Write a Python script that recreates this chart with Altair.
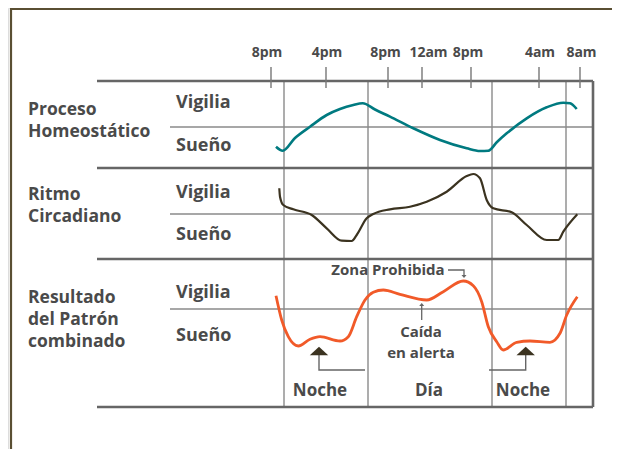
import altair as alt
import pandas as pd

# ---------------- data (chart units: x = 8..612 across, y = 8..449 down) -------------
tick_labels = ["8pm", "4pm", "8pm", "12am", "8pm", "4am", "8am"]
tick_x = [271, 326, 388, 422, 471, 539, 580]
tick_label_x = [267, 327, 385.5, 428.5, 468, 540, 581.5]

# Proceso Homeostático (teal)
homeo_x = [276, 282.7, 295, 310, 326.7, 340, 353.3, 362.7, 375, 390, 413.3, 440, 466.7, 480, 488.3,
           497, 506.7, 526.7, 546.7, 563.3, 570, 576.7]
homeo_y = [146.7, 150.7, 138, 126.7, 115, 109, 105, 103.3, 109.5, 116.7, 128.3, 140, 148.3, 151, 150.7,
           142, 133.3, 118.3, 107.3, 102.7, 103.3, 109]

# Ritmo Circadiano (dark olive)
circ_x = [279.3, 280, 283.3, 293.3, 311.7, 326.7, 341.7, 351.7, 356.7, 366.7, 373.3, 390, 410, 426.7,
          446.7, 466.7, 473.3, 480, 486.7, 493.3, 511.7, 526.7, 546.7, 558.3, 563.3, 577.3]
circ_y = [188.3, 196.7, 205, 209.3, 215, 228.3, 240.7, 241, 235, 218.3, 214, 209.3, 206.7, 201.7,
          191.7, 176, 174, 178.3, 200, 208.3, 212.3, 225, 240, 240, 231.7, 214.3]

# Resultado del Patrón combinado (orange)
comb_x = [276, 281.7, 288.3, 298.3, 310, 320, 340, 348.3, 356.7, 365, 373.3, 383.3, 400, 426.7,
          443.3, 463.3, 473.3, 481.7, 488.3, 496.7, 503.3, 516.7, 530, 550, 560, 566.7, 577.3]
comb_y = [295.7, 320, 336.7, 346, 339.3, 336.7, 341, 336.7, 316.7, 300, 292.3, 290, 294.3, 300,
          291.7, 281, 285.7, 301.7, 326.7, 341.7, 350, 342.3, 341, 342.3, 333.3, 315, 296.7]

group_labels = ["Proceso", "Homeostático", "Ritmo", "Circadiano", "Resultado", "del Patrón", "combinado"]
group_label_y = [110, 132, 195, 217, 297.5, 319.5, 341.5]

state_labels = ["Vigilia", "Sueño", "Vigilia", "Sueño", "Vigilia", "Sueño"]
state_label_y = [103, 146, 193, 235, 293, 336]

period_labels = ["Noche", "Día", "Noche"]
period_x = [320, 429, 523]

# ---------------- helpers --------------------------------------------------------------
X = alt.Scale(domain=[8, 612])
Y = alt.Scale(domain=[8, 449], reverse=True)
FONT = "Open Sans"
TXT = "#4a4a4a"


def rules(df, color, width):
    return alt.Chart(df).mark_rule(color=color, strokeWidth=width).encode(
        x=alt.X("x:Q", scale=X, axis=None),
        x2="x2:Q",
        y=alt.Y("y:Q", scale=Y, axis=None),
        y2="y2:Q",
    )


def path(xs, ys, color, width):
    df = pd.DataFrame({"x": xs, "y": ys, "o": range(len(xs))})
    return alt.Chart(df).mark_line(color=color, strokeWidth=width, interpolate="monotone").encode(
        x=alt.X("x:Q", scale=X, axis=None),
        y=alt.Y("y:Q", scale=Y, axis=None),
        order="o:Q",
    )


def poly(xs, ys, color, width):
    df = pd.DataFrame({"x": xs, "y": ys, "o": range(len(xs))})
    return alt.Chart(df).mark_line(color=color, strokeWidth=width, interpolate="linear").encode(
        x=alt.X("x:Q", scale=X, axis=None),
        y=alt.Y("y:Q", scale=Y, axis=None),
        order="o:Q",
    )


def texts(xs, ys, labels, size, align="left", color=TXT):
    df = pd.DataFrame({"x": xs, "y": ys, "t": labels})
    return alt.Chart(df).mark_text(font=FONT, fontWeight="bold", fontSize=size, align=align,
                                   baseline="middle", color=color).encode(
        x=alt.X("x:Q", scale=X, axis=None),
        y=alt.Y("y:Q", scale=Y, axis=None),
        text="t:N",
    )


# outer frame (olive)
frame = rules(pd.DataFrame({"x": [10, 11], "x2": [612, 11], "y": [9, 9], "y2": [9, 449]}),
              "#5a4f33", 2.2)

# heavy box lines
heavy = rules(pd.DataFrame({
    "x": [97, 97, 97, 97, 593],
    "x2": [593, 593, 593, 593, 593],
    "y": [81, 168, 259, 407, 81],
    "y2": [81, 168, 259, 407, 407],
}), "#666666", 2.6)

# thin gridlines
thin = rules(pd.DataFrame({
    "x": [170, 170, 170, 284, 368, 492, 566],
    "x2": [593, 593, 593, 284, 368, 492, 566],
    "y": [127, 214, 309, 81, 81, 81, 81],
    "y2": [127, 214, 309, 407, 407, 407, 407],
}), "#8a8a8a", 1.4)

# top ticks
ticks = rules(pd.DataFrame({"x": tick_x, "x2": tick_x, "y": [67] * 7, "y2": [88] * 7}),
              "#777777", 1.4)
tick_text = texts(tick_label_x, [53] * 7, tick_labels, 14, align="center")

# curves
c1 = path(homeo_x, homeo_y, "#007a80", 2.6)
c2 = path(circ_x, circ_y, "#3b3320", 2.2)
c3 = path(comb_x, comb_y, "#f15a29", 2.8)

# labels
g_text = texts([28] * 7, group_label_y, group_labels, 17.5)
s_text = texts([176] * 6, state_label_y, state_labels, 18)
p_text = texts(period_x, [391] * 3, period_labels, 17, align="center")

ann = texts([388, 421, 421], [270, 332, 353], ["Zona Prohibida", "Caída", "en alerta"], 15,
            align="center")

# annotation arrows
a1 = poly([448, 464, 464], [270, 270, 275], "#666666", 1.3)
a2 = poly([421.7, 421.7], [320, 306], "#666666", 1.3)
heads = alt.Chart(pd.DataFrame({"x": [464, 421.7], "y": [276.5, 304.5],
                                "s": ["M-1,-0.6L1,-0.6L0,0.6Z", "M-1,0.6L1,0.6L0,-0.6Z"]})).mark_point(
    filled=True, color="#666666", size=25, opacity=1).encode(
    x=alt.X("x:Q", scale=X, axis=None),
    y=alt.Y("y:Q", scale=Y, axis=None),
    shape=alt.Shape("s:N", scale=None, legend=None),
)

# night markers
l1 = poly([319, 319, 365], [355, 370, 370], "#666666", 1.4)
l2 = poly([525.7, 525.7, 489], [355, 370, 370], "#666666", 1.4)
tri = alt.Chart(pd.DataFrame({"x": [319, 525.7], "y": [351, 351]})).mark_point(
    filled=True, color="#3b3320", opacity=1, size=340,
    shape="M-1,0.45L0,-0.45L1,0.45Z").encode(
    x=alt.X("x:Q", scale=X, axis=None),
    y=alt.Y("y:Q", scale=Y, axis=None),
)

chart = alt.layer(
    frame, thin, heavy, ticks, tick_text, c1, c2, c3, g_text, s_text, p_text, ann,
    a1, a2, heads, l1, l2, tri,
).properties(
    width=604, height=441, autosize=alt.AutoSizeParams(type="none"),
    padding=0,
).configure_view(stroke=None).configure(background="white")

chart.save("out.html", embed_options={"renderer": "svg", "actions": False})
